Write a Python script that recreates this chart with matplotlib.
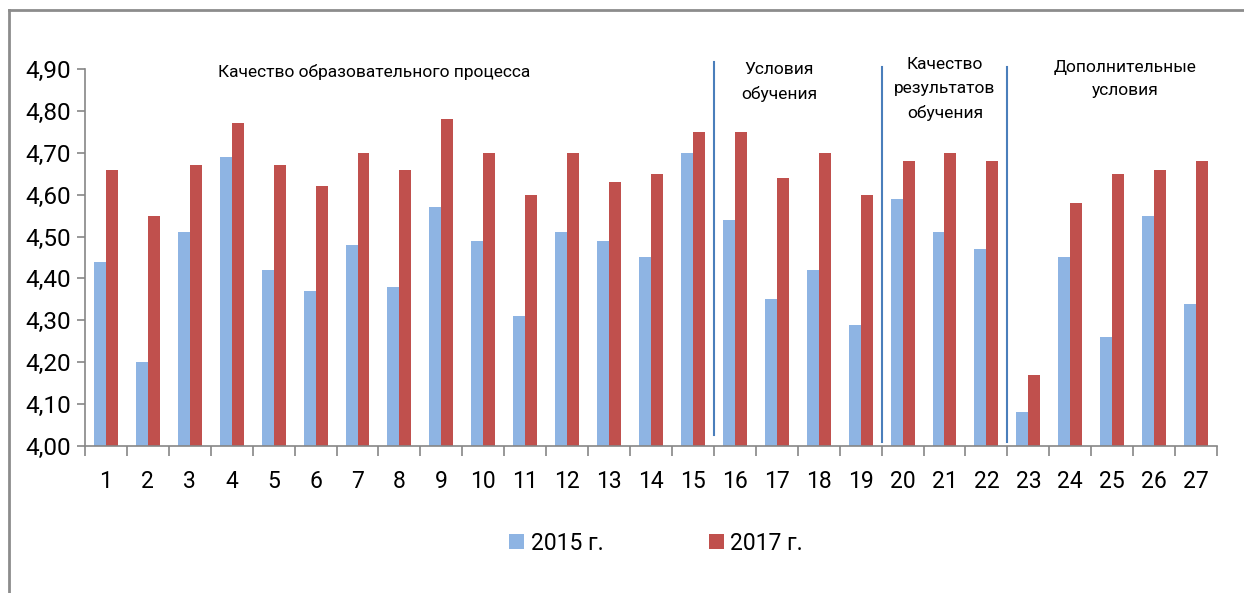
import matplotlib
matplotlib.use("Agg")
import matplotlib.pyplot as plt
from matplotlib.lines import Line2D
import numpy as np

plt.rcParams["font.family"] = ["Roboto", "DejaVu Sans"]

items = [str(i) for i in range(1, 28)]
score_2015 = [4.44, 4.20, 4.51, 4.69, 4.42, 4.37, 4.48, 4.38, 4.57, 4.49,
              4.31, 4.51, 4.49, 4.45, 4.70, 4.54, 4.35, 4.42, 4.29, 4.59,
              4.51, 4.47, 4.08, 4.45, 4.26, 4.55, 4.34]
score_2017 = [4.66, 4.55, 4.67, 4.77, 4.67, 4.62, 4.70, 4.66, 4.78, 4.70,
              4.60, 4.70, 4.63, 4.65, 4.75, 4.75, 4.64, 4.70, 4.60, 4.68,
              4.70, 4.68, 4.17, 4.58, 4.65, 4.66, 4.68]
series_labels = ["2015 г.", "2017 г."]

# group names and where each group ends (boundary after item N)
group_names = ["Качество образовательного процесса", "Условия\nобучения",
               "Качество\nрезультатов\nобучения", "Дополнительные\nусловия"]
group_bounds = [15, 19, 22]

W, H = 1244, 593
fig = plt.figure(figsize=(W / 100, H / 100), dpi=100)
ax = fig.add_axes([85 / W, 1 - 446 / H, (1217 - 85) / W, (446 - 69) / H])

x = np.arange(1, len(items) + 1)
bw = 0.285
ax.bar(x - bw / 2, score_2015, bw, color="#8EB4E3", label=series_labels[0])
ax.bar(x + bw / 2, score_2017, bw, color="#C0504D", label=series_labels[1])

ax.set_xlim(0.5, len(items) + 0.5)
ax.set_ylim(4.0, 4.9)
yt = np.arange(4.0, 4.91, 0.1)
ax.set_yticks(yt)
ax.set_yticklabels([f"{v:.2f}".replace(".", ",") for v in yt], fontsize=17.5)
ax.set_xticks(np.arange(0.5, len(items) + 1, 1))
ax.set_xticklabels([])
ax.set_xticks(x, minor=True)
ax.set_xticklabels(items, minor=True, fontsize=16.5)
ax.tick_params(axis="x", which="minor", length=0, pad=17)
ax.tick_params(axis="x", which="major", length=7, color="#868686", width=1.2)
ax.tick_params(axis="y", length=6, color="#868686", width=1.2, pad=4)
for s in ["top", "right"]:
    ax.spines[s].set_visible(False)
for s in ["left", "bottom"]:
    ax.spines[s].set_color("#868686")
    ax.spines[s].set_linewidth(1.2)

# separators between groups
sep_ends = [(4.026, 4.917), (4.010, 4.905), (4.010, 4.905)]
for b, (y0, y1) in zip(group_bounds, sep_ends):
    ax.plot([b + 0.5, b + 0.5], [y0, y1], color="#4A7EBB", lw=1.5, clip_on=False)

# group captions (figure pixel positions)
caption_pos = [(374, 72), (779, 82), (945, 89), (1125, 79)]
for name, (px, py) in zip(group_names, caption_pos):
    fig.text(px / W, 1 - py / H, name, ha="center", va="center",
             fontsize=12.5, linespacing=1.7)

fig.legend(loc="center", bbox_to_anchor=(656 / W, 1 - 543 / H), ncol=2,
           frameon=False, fontsize=16.5, handlelength=0.65, handleheight=0.65,
           handletextpad=0.3, columnspacing=4.6)

# outer chart frame
fig.add_artist(Line2D([9 / W, 9 / W], [0, 1 - 10 / H], color="#8C8C8C", lw=2))
fig.add_artist(Line2D([9 / W, 1], [1 - 10 / H, 1 - 10 / H], color="#8C8C8C", lw=2))

fig.savefig("out.png", dpi=100)
